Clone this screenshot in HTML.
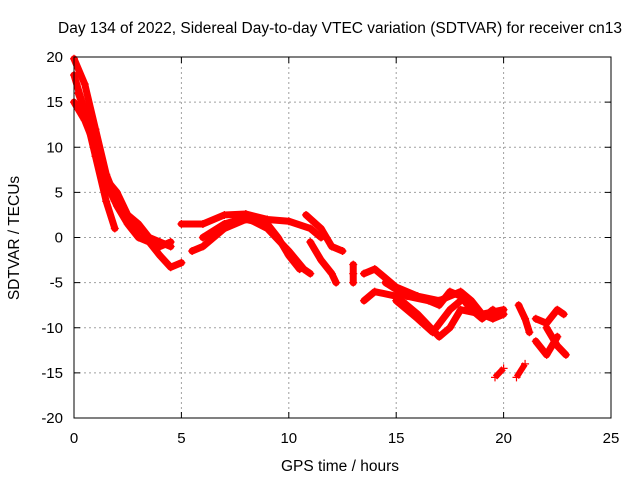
<!DOCTYPE html>
<html><head><meta charset="utf-8"><style>
body{margin:0;background:#fff;}
svg{display:block;font-family:"Liberation Sans",sans-serif;}
</style></head><body>
<svg id="chart" width="640" height="480">
<rect width="640" height="480" fill="#fff"/>
<text x="340" y="33" font-size="15.5" text-anchor="middle">Day 134 of 2022, Sidereal Day-to-day VTEC variation (SDTVAR) for receiver cn13</text>
<text x="340" y="471" font-size="15.5" text-anchor="middle">GPS time / hours</text>
<text transform="translate(19,238) rotate(-90)" font-size="15.5" text-anchor="middle">SDTVAR / TECUs</text>
<g id="grid"></g><g id="marks"></g>
<rect x="74" y="57" width="537" height="361" fill="none" stroke="#000" stroke-width="1"/>
</svg>
<script>
const xTicks=[0,5,10,15,20,25];
const yTicks=[-20,-15,-10,-5,0,5,10,15,20];
const trackA1=[[0,19.8],[0.5,17],[1,12],[1.5,7],[2,4],[2.5,2],[3,1],[3.5,0],[4,-0.5],[4.5,-1]];
const trackA2=[[0,18],[0.5,14],[1,9],[1.5,4],[1.9,1]];
const trackA3=[[0,15],[0.5,13],[1,10],[1.5,6],[2,3.5],[2.5,1.5],[3,0],[3.5,-0.5],[4,-2],[4.5,-3.3],[5,-2.8]];
const trackA4=[[0.2,16],[0.8,12],[1.3,7],[2,5],[2.5,2.5],[3,1.5],[3.5,0],[4,-1],[4.5,-0.5]];
const trackB1=[[5,1.5],[6,1.5],[7,2.5],[8,2.6],[9,2],[10,1.8],[11,1],[11.5,0]];
const trackB2=[[5.5,-1.5],[6,-1],[7,1],[8,2],[9,1.5],[9.5,0],[10,-2],[10.5,-3.5]];
const trackB3=[[6,0],[7,1.5],[8,2.2],[9,1],[10,-1.5],[10.7,-3.5],[11,-4]];
const trackB4=[[10.8,2.5],[11.5,1],[12,-1],[12.5,-1.5]];
const trackB5=[[11,-0.5],[11.5,-2.5],[12,-4],[12.2,-5]];
const trackC=[[13,-3],[13,-4],[13,-5]];
const trackD1=[[13.5,-4],[14,-3.5],[14.5,-4.5],[15,-5.5],[16,-6.5],[17,-7],[18,-6],[18.5,-7],[19,-8.5],[20,-8]];
const trackD2=[[13.5,-7],[14,-6],[15,-6.5],[16,-8.5],[17,-11],[17.5,-10],[18,-8],[19,-8.5],[19.5,-9],[20,-8.5]];
const trackD3=[[14.5,-5],[15.5,-6.5],[16.5,-7],[17,-7.5],[17.5,-6],[18,-6.5],[18.5,-8],[19,-9],[19.5,-8]];
const trackD4=[[15,-7],[16,-9],[16.7,-10.5],[17.5,-8],[18,-7]];
const trackE1=[[19.6,-15.5],[20,-14.5]];
const trackE2=[[20.6,-15.5],[21,-14]];
const trackF1=[[20.7,-7.5],[21,-9],[21.2,-10.5]];
const trackF2=[[21.5,-11.5],[22,-13],[22.5,-11]];
const trackF3=[[21.5,-9],[22,-9.5],[22.5,-8],[22.8,-8.5]];
const trackF4=[[22,-10],[22.5,-12],[22.9,-13]];
const tracks=[trackA1,trackA2,trackA3,trackA4,trackB1,trackB2,trackB3,trackB4,trackB5,trackC,trackD1,trackD2,trackD3,trackD4,trackE1,trackE2,trackF1,trackF2,trackF3,trackF4];
const NS="http://www.w3.org/2000/svg";
const xs=v=>74+v*(537/25), ys=v=>237.5-v*(361/40);
const grid=document.getElementById('grid'), marks=document.getElementById('marks');
function mk(tag,at,parent){const e=document.createElementNS(NS,tag);for(const k in at)e.setAttribute(k,at[k]);parent.appendChild(e);return e;}
xTicks.forEach(t=>{const x=xs(t);
 if(t>0&&t<25){const l=mk('line',{x1:x,x2:x,y1:57,y2:418,stroke:'#a0a0a0','stroke-dasharray':'2,3'},grid);
 
 }
 mk('line',{x1:x,x2:x,y1:418,y2:412,stroke:'#000'},grid);mk('line',{x1:x,x2:x,y1:57,y2:63,stroke:'#000'},grid);
 const tx=mk('text',{x:x,y:443,'font-size':15,'text-anchor':'middle'},grid);tx.textContent=t;
 
 });
yTicks.forEach(t=>{const y=ys(t);
 if(t>-20&&t<20){const l=mk('line',{x1:74,x2:611,y1:y,y2:y,stroke:'#a0a0a0','stroke-dasharray':'2,3'},grid);
 
 }
 mk('line',{x1:74,x2:80,y1:y,y2:y,stroke:'#000'},grid);mk('line',{x1:611,x2:605,y1:y,y2:y,stroke:'#000'},grid);
 const tx=mk('text',{x:63,y:y+5,'font-size':15,'text-anchor':'end'},grid);tx.textContent=t;
 
 });
tracks.forEach(tr=>{
 const g=mk('g',{},marks);
 
 
 if(tr.length>2){mk('polyline',{points:tr.map(p=>xs(p[0])+','+ys(p[1])).join(' '),fill:'none',stroke:'#ff0000','stroke-width':7,'stroke-linejoin':'round','stroke-linecap':'round'},g);}
 else if(tr.length==2){mk('polyline',{points:tr.map(p=>xs(p[0])+','+ys(p[1])).join(' '),fill:'none',stroke:'#ff0000','stroke-width':6},g);}
 tr.forEach(p=>{const x=xs(p[0]),y=ys(p[1]);
  const m=mk('path',{d:`M${x-4},${y}H${x+4}M${x},${y-4}V${y+4}`,stroke:'#ff0000','stroke-width':1.2},g);
  
  });
});
</script>
</body></html>
